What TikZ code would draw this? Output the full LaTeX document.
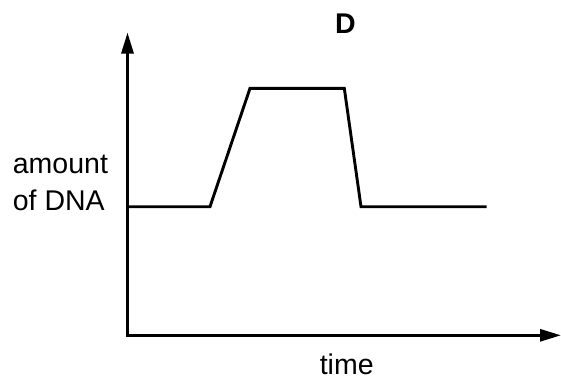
\documentclass[tikz,border=0pt]{standalone}
\usepackage{fontspec}
\setmainfont{Liberation Sans}
\usepackage{tikz}
\usetikzlibrary{arrows.meta,positioning}

\begin{document}
\begin{tikzpicture}[x=1pt,y=-1pt]
			\tikzstyle{Axis}	= [line width=2.9pt, -{Triangle[width=12pt,length=21pt]}]
			\tikzstyle{Curve}	= [line width=2.9pt, line join=miter]
			\tikzstyle{Label}	= [inner sep=0pt, font=\fontsize{28.5}{34}\selectfont]
			
			\useasboundingbox (0,0) rectangle (561,380);
			
			\coordinate (o) at (127.5, 336.7);
			\coordinate (ytip) at (127.5, 32.5);
			\coordinate (xtip) at (561, 335.3);
			
			\coordinate (p0) at (127.5, 206.7);
			\coordinate (p1) at (210.0, 206.7);
			\coordinate (p2) at (250.0, 88.3);
			\coordinate (p3) at (344.3, 88.3);
			\coordinate (p4) at (361.0, 206.7);
			\coordinate (p5) at (486.5, 206.7);
			
			\draw (o) -- (ytip) [Axis];
			\draw (126.0, 335.3) -- (xtip) [Axis];
			\draw (p0) -- (p1) -- (p2) -- (p3) -- (p4) -- (p5) [Curve];
			
			\node (title) at (345.5, 33.3) [Label, anchor=base, font=\fontsize{28.5}{34}\selectfont\bfseries] {D};
			\node (amount) at (12.7, 173.3) [Label, anchor=base west] {amount};
			\node (ofdna) at (12.7, 210.5) [Label, anchor=base west] {of DNA};
			\node (time) at (346.7, 374.5) [Label, anchor=base] {time};
		\end{tikzpicture}
\end{document}
